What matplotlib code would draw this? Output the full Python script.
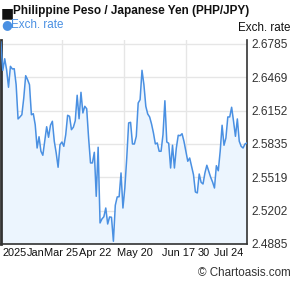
import matplotlib
matplotlib.use("Agg")
import matplotlib.pyplot as plt
from matplotlib.ticker import FixedLocator
import numpy as np

plt.rcParams['font.family'] = ['Liberation Sans', 'DejaVu Sans']

title = "Philippine Peso / Japanese Yen (PHP/JPY)"
series_name = "Exch. rate"
rates = [
    2.6804, 2.6535, 2.6645, 2.6541, 2.6374, 2.6573, 2.6548, 2.6550, 2.6398, 2.6073,
    2.6092, 2.6113, 2.6272, 2.6484, 2.6446, 2.6398, 2.6113, 2.6123, 2.6018, 2.5797,
    2.5904, 2.5766, 2.5728, 2.5861, 2.5999, 2.5899, 2.6013, 2.6051, 2.5861, 2.5750,
    2.5614, 2.5828, 2.5854, 2.5813, 2.5923, 2.6108, 2.6098, 2.5971, 2.5994, 2.6056,
    2.6298, 2.6075, 2.6326, 2.6130, 2.6193, 2.6170, 2.5892, 2.5655, 2.5655, 2.5756,
    2.5338, 2.5804, 2.5085, 2.5123, 2.5144, 2.5227, 2.5075, 2.5142, 2.5139, 2.4911,
    2.5253, 2.5332, 2.5334, 2.5560, 2.5227, 2.5417, 2.5702, 2.6035, 2.6041, 2.5835,
    2.5835, 2.5908, 2.6225, 2.6256, 2.6535, 2.6398, 2.6193, 2.6120, 2.6092, 2.6025,
    2.5940, 2.5835, 2.5845, 2.5766, 2.5766, 2.5923, 2.6246, 2.5854, 2.5842, 2.5607,
    2.5823, 2.5607, 2.5797, 2.5918, 2.5914, 2.5933, 2.5861, 2.5766, 2.5671, 2.5702,
    2.5623, 2.5543, 2.5379, 2.5370, 2.5550, 2.5471, 2.5455, 2.5560, 2.5633, 2.5576,
    2.5519, 2.5474, 2.5417, 2.5629, 2.5581, 2.5766, 2.6013, 2.5823, 2.5892, 2.6092,
    2.6092, 2.6184, 2.6051, 2.5908, 2.6073, 2.5861, 2.5813, 2.5797, 2.5835, 2.5845,
]
y_ticks = [2.4885, 2.5202, 2.5519, 2.5835, 2.6152, 2.6469, 2.6785]
x_labels = ["2025", "Jan", "Mar 25", "Apr 22", "May 20", "Jun 17", "30", "Jul 24"]
x_label_pos = [0.054, 0.140, 0.243, 0.384, 0.546, 0.723, 0.825, 0.926]
x_grid_pos = [0.249, 0.502, 0.751]

line_color = "#4a90e2"
fill_color = "#ecf5fe"
axis_color = "#333333"

fig = plt.figure(figsize=(2.95, 2.88), dpi=100)
ax = fig.add_axes([0.003, 1 - 244 / 288, 246 / 295, 204 / 288])

n = len(rates)
x = np.arange(n)
ymin, ymax = 2.4885, 2.6823
ax.fill_between(x, rates, ymin, color=fill_color, lw=0, zorder=1)
ax.plot(x, rates, color=line_color, lw=1.1, zorder=3)
ax.set_xlim(0, n - 1)
ax.set_ylim(ymin, ymax)

ax.yaxis.tick_right()
ax.set_yticks(y_ticks)
ax.set_yticklabels([f"{v:.4f}" for v in y_ticks], fontsize=8.6, color=axis_color)
ax.tick_params(axis='y', length=0, pad=3)
ax.grid(axis='y', color="#e6e6e6", lw=1, zorder=0)

ax.set_xticks([p * (n - 1) for p in x_label_pos])
ax.set_xticklabels(x_labels, fontsize=7.9, color="#111111")
ax.tick_params(axis='x', length=0, pad=3)
ax.xaxis.set_minor_locator(FixedLocator([p * (n - 1) for p in x_grid_pos]))
ax.tick_params(axis='x', which='minor', length=0)
ax.grid(axis='x', which='minor', color="#e6e6e6", lw=1, zorder=0)

for s in ['left', 'right', 'bottom']:
    ax.spines[s].set_color(axis_color)
    ax.spines[s].set_linewidth(1.2)
ax.spines['left'].set_linewidth(2)
ax.spines['top'].set_visible(False)
ax.set_axisbelow(True)

fig.text(1 / 295, 1 - 13 / 288, "\u25a0", fontsize=10, va='center', ha='left',
         color="#111111", family=['DejaVu Sans'])
fig.text(13 / 295, 1 - 11 / 288, title, fontsize=8.5, fontweight='bold',
         va='center', ha='left', color="#111111")
fig.text(1 / 295, 1 - 25 / 288, "\u25cf", fontsize=9, va='center', ha='left',
         color=line_color, family=['DejaVu Sans'])
fig.text(11 / 295, 1 - 25 / 288, series_name, fontsize=8.4, va='center', ha='left',
         color=line_color)
fig.text(291 / 295, 1 - 28 / 288, series_name, fontsize=8.4, va='center', ha='right', color="#111111")
fig.text(291 / 295, 1 - 273 / 288, "\u00a9 Chartoasis.com", fontsize=8.4, va='center', ha='right', color="#333333")

fig.savefig("out.png", dpi=100)
